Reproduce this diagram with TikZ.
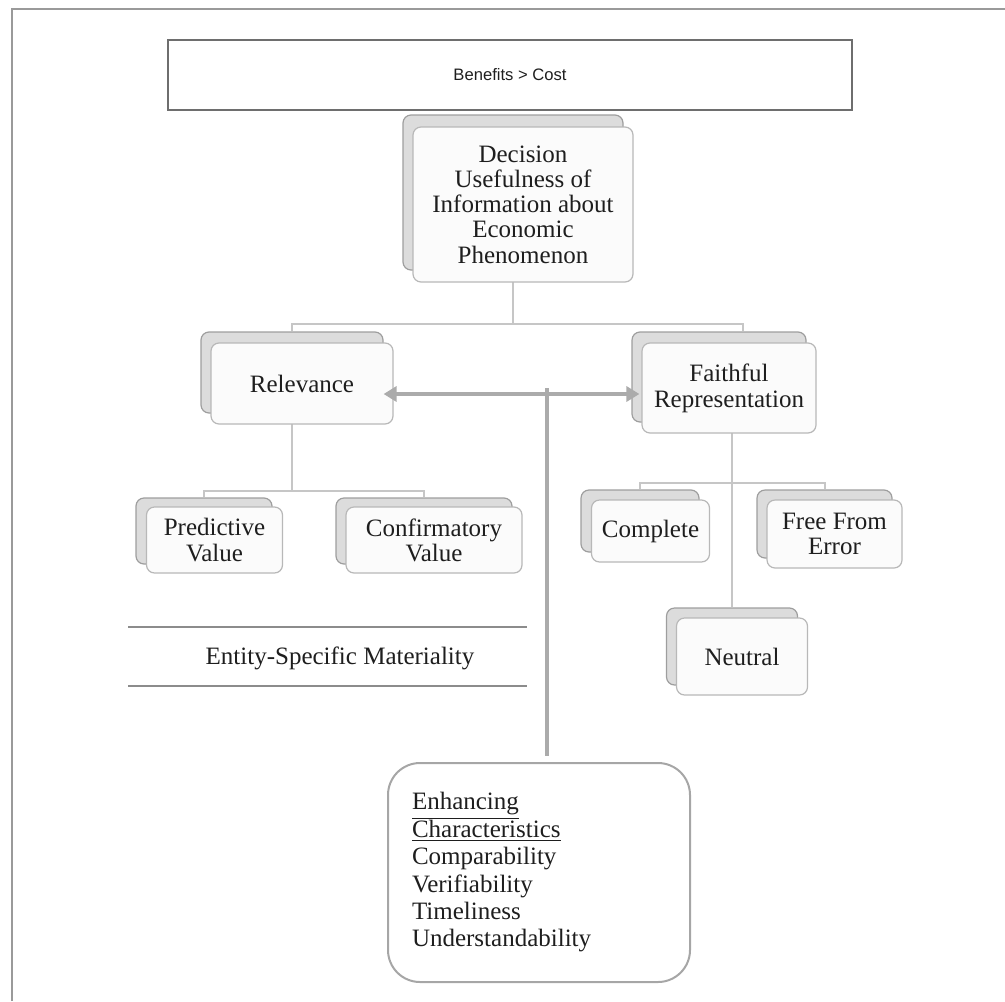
\documentclass[tikz,border=0pt]{standalone}
\usepackage{fontspec}
\setmainfont{Liberation Serif}
\newfontfamily\bcfont{Liberation Sans}
\usetikzlibrary{arrows.meta,backgrounds}
\definecolor{backfill}{HTML}{DCDCDC}
\definecolor{backdraw}{HTML}{9E9E9E}
\definecolor{frontfill}{HTML}{FBFBFB}
\definecolor{frontdraw}{HTML}{B8B8B8}
\definecolor{connc}{HTML}{C6C6C6}
\definecolor{thickc}{HTML}{ABABAB}
\definecolor{framec}{HTML}{9A9A9A}
\definecolor{bcdraw}{HTML}{6E6E6E}
\definecolor{enhdraw}{HTML}{A6A6A6}
\definecolor{entc}{HTML}{8C8C8C}
\definecolor{txt}{HTML}{1E1E1E}
\begin{document}
\begin{tikzpicture}[x=0.5pt,y=-0.5pt,
  backbox/.style={draw=backdraw, fill=backfill, rounded corners=4pt, line width=0.6pt, inner sep=0pt},
  frontbox/.style={draw=frontdraw, fill=frontfill, rounded corners=4pt, line width=0.6pt, align=center, inner sep=0pt, text=txt, font=\fontsize{12.5}{12.6}\selectfont},
  conn/.style={draw=connc, line width=1pt},
  thickline/.style={draw=thickc, line width=2pt},
]
\useasboundingbox (0,0) rectangle (1005,1001);
\draw[framec, line width=1pt] (12,1001) -- (12,9) -- (1005,9);

% Benefits > Cost
\node[draw=bcdraw, line width=1pt, minimum width=342pt, minimum height=35pt, text=txt,
      font=\bcfont\fontsize{8.3}{9.6}\selectfont] (bc) at (510,75) {Benefits > Cost};

% Decision usefulness
\node[backbox, minimum width=110pt, minimum height=77.5pt] (decb) at (513,192.5) {};
\node[frontbox, minimum width=110pt, minimum height=77.5pt] (dec) at (523,204.5)
  {Decision\\Usefulness of\\Information about\\Economic\\Phenomenon};

% Relevance
\node[backbox, minimum width=91pt, minimum height=40.5pt] (relb) at (292,372.5) {};
\node[frontbox, minimum width=91pt, minimum height=40.5pt] (rel) at (302,383.5) {Relevance};

% Faithful representation
\node[backbox, minimum width=87pt, minimum height=45pt] (fthb) at (719,377) {};
\node[frontbox, minimum width=87pt, minimum height=45pt, font=\fontsize{12.5}{13}\selectfont] (fth) at (729,388)
  {Faithful\\Representation};

% Predictive value
\node[backbox, minimum width=68pt, minimum height=33pt] (predb) at (204,531) {};
\node[frontbox, minimum width=68pt, minimum height=33pt] (pred) at (214.5,540) {Predictive\\Value};

% Confirmatory value
\node[backbox, minimum width=88pt, minimum height=33pt] (confb) at (424,531) {};
\node[frontbox, minimum width=88pt, minimum height=33pt] (conf) at (434,540) {Confirmatory\\Value};

% Complete
\node[backbox, minimum width=59pt, minimum height=31pt] (compb) at (640,521) {};
\node[frontbox, minimum width=59pt, minimum height=31pt] (comp) at (650.5,531) {Complete};

% Free from error
\node[backbox, minimum width=67.5pt, minimum height=34pt] (freeb) at (824.5,524) {};
\node[frontbox, minimum width=67.5pt, minimum height=34pt] (free) at (834.5,534) {Free From\\Error};

% Neutral
\node[backbox, minimum width=65.5pt, minimum height=38.5pt] (neub) at (732,646.5) {};
\node[frontbox, minimum width=65.5pt, minimum height=38.5pt] (neu) at (742,656.5) {Neutral};

% Entity-specific materiality
\node[text=txt, font=\fontsize{12.5}{14}\selectfont] (ent) at (340,658) {Entity-Specific Materiality};
\draw[entc, line width=1.2pt] (128,627) -- (527,627);
\draw[entc, line width=1.2pt] (128,686) -- (527,686);

% Enhancing characteristics
\node[draw=enhdraw, line width=1pt, rounded corners=16pt, minimum height=109.5pt,
      text width=127pt, inner xsep=12pt, align=left, text=txt,
      font=\fontsize{12.5}{13.7}\selectfont] (enh) at (539,872.5)
  {\underline{Enhancing}\\\underline{Characteristics}\\Comparability\\Verifiability\\Timeliness\\Understandability};

% connectors
\coordinate (jtop) at (513,324);
\coordinate (jrel) at (292,491);
\coordinate (jf) at (732,483);
\coordinate (vt) at (547,388);
\begin{scope}[on background layer]
  \draw[conn] (decb.center) -- (jtop);
  \draw[conn] (relb.north) |- (jtop) -| ([xshift=12pt]fthb.north);
  \draw[conn] (relb.center) -- (jrel);
  \draw[conn] (predb.north) |- (jrel) -| (confb.north);
  \draw[conn] (jf |- fth.center) -- (neub.north);
  \draw[conn] (compb.north) |- (jf) -| (freeb.north);
\end{scope}

% arrow between relevance and faithful representation
\coordinate (al) at ([xshift=-5pt,yshift=-5.25pt]rel.east);
\draw[thickline, {Triangle[length=6.5pt,width=7.5pt]}-{Triangle[length=6.5pt,width=7.5pt]}]
  (al) -- ([xshift=4pt]al -| fthb.west);
\draw[thickline] (vt) -- ([yshift=3pt]vt |- enh.north);
\end{tikzpicture}
\end{document}
